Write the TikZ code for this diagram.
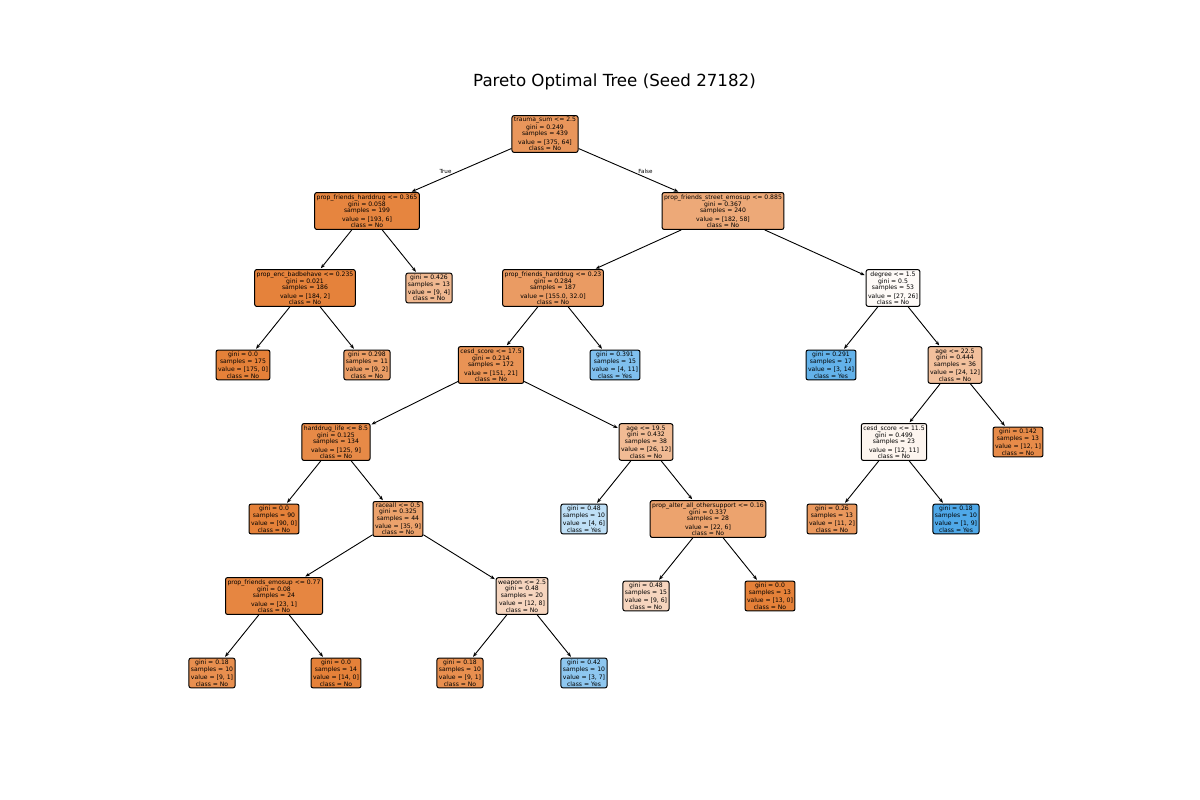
\documentclass[tikz,border=0pt]{standalone}
\usepackage{fontspec}
\setmainfont{DejaVu Sans}
\usetikzlibrary{arrows.meta}

\definecolor{clsno}{RGB}{229,129,57}
\definecolor{clsyes}{RGB}{57,157,229}

% impurity / sample statistics shown in every box
\newcommand{\tvals}[4]{gini = #1\\samples = #2\\[1.2pt]value = #3\\class = #4}

\tikzset{
  treebox/.style={draw=black, line width=1pt, rounded corners=2pt, inner xsep=2pt, inner ysep=1.8pt,
    align=center, font=\fontsize{6.1}{5.2}\selectfont},
  nobox/.style={treebox, fill=clsno!#1!white},
  yesbox/.style={treebox, fill=clsyes!#1!white},
  treeedge/.style={-{Stealth[length=4.5pt,width=3.5pt]}, line width=0.9pt, shorten >=1pt},
  edgelabel/.style={font=\fontsize{5.6}{6}\selectfont},
  titletext/.style={font=\fontsize{16.67}{20}\selectfont},
}

\begin{document}
\begin{tikzpicture}[x=1pt,y=-1pt]
\fill[white] (0,0) rectangle (1200,800);
\useasboundingbox (0,0) rectangle (1200,800);

\node[titletext] (title) at (614.5,82) {Pareto Optimal Tree (Seed 27182)};

% level 0
\node[nobox=83] (n0) at (545,134) {trauma\_sum <= 2.5\\\tvals{0.249}{439}{[375, 64]}{No}};
% level 1
\node[nobox=97] (n1) at (367,211) {prop\_friends\_harddrug <= 0.365\\\tvals{0.058}{199}{[193, 6]}{No}};
\node[nobox=68] (n2) at (723,211) {prop\_friends\_street\_emosup <= 0.885\\\tvals{0.367}{240}{[182, 58]}{No}};
% level 2
\node[nobox=99] (n3) at (305,288) {prop\_enc\_badbehave <= 0.235\\\tvals{0.021}{186}{[184, 2]}{No}};
\node[nobox=56] (n4) at (429,288) {\tvals{0.426}{13}{[9, 4]}{No}};
\node[nobox=79] (n5) at (553,288) {prop\_friends\_harddrug <= 0.23\\\tvals{0.284}{187}{[155.0, 32.0]}{No}};
\node[nobox=4] (n6) at (893,288) {degree <= 1.5\\\tvals{0.5}{53}{[27, 26]}{No}};
% level 3
\node[nobox=100] (n7) at (243,365) {\tvals{0.0}{175}{[175, 0]}{No}};
\node[nobox=78] (n8) at (367,365) {\tvals{0.298}{11}{[9, 2]}{No}};
\node[nobox=86] (n9) at (491,365) {cesd\_score <= 17.5\\\tvals{0.214}{172}{[151, 21]}{No}};
\node[yesbox=64] (n10) at (615,365) {\tvals{0.391}{15}{[4, 11]}{Yes}};
\node[yesbox=79] (n11) at (831,365) {\tvals{0.291}{17}{[3, 14]}{Yes}};
\node[nobox=50] (n12) at (955,365) {age <= 22.5\\\tvals{0.444}{36}{[24, 12]}{No}};
% level 4
\node[nobox=93] (n13) at (336,442) {harddrug\_life <= 8.5\\\tvals{0.125}{134}{[125, 9]}{No}};
\node[nobox=54] (n14) at (646,442) {age <= 19.5\\\tvals{0.432}{38}{[26, 12]}{No}};
\node[nobox=8] (n15) at (894,442) {cesd\_score <= 11.5\\\tvals{0.499}{23}{[12, 11]}{No}};
\node[nobox=92] (n16) at (1018,442) {\tvals{0.142}{13}{[12, 1]}{No}};
% level 5
\node[nobox=100] (n17) at (274,519) {\tvals{0.0}{90}{[90, 0]}{No}};
\node[nobox=74] (n18) at (398,519) {raceall <= 0.5\\\tvals{0.325}{44}{[35, 9]}{No}};
\node[yesbox=33] (n19) at (584,519) {\tvals{0.48}{10}{[4, 6]}{Yes}};
\node[nobox=73] (n20) at (708,519) {prop\_alter\_all\_othersupport <= 0.16\\\tvals{0.337}{28}{[22, 6]}{No}};
\node[nobox=82] (n21) at (832,519) {\tvals{0.26}{13}{[11, 2]}{No}};
\node[yesbox=89] (n22) at (956,519) {\tvals{0.18}{10}{[1, 9]}{Yes}};
% level 6
\node[nobox=96] (n23) at (274,596) {prop\_friends\_emosup <= 0.77\\\tvals{0.08}{24}{[23, 1]}{No}};
\node[nobox=33] (n24) at (522,596) {weapon <= 2.5\\\tvals{0.48}{20}{[12, 8]}{No}};
\node[nobox=33] (n25) at (646,596) {\tvals{0.48}{15}{[9, 6]}{No}};
\node[nobox=100] (n26) at (770,596) {\tvals{0.0}{13}{[13, 0]}{No}};
% level 7
\node[nobox=89] (n27) at (212,673) {\tvals{0.18}{10}{[9, 1]}{No}};
\node[nobox=100] (n28) at (336,673) {\tvals{0.0}{14}{[14, 0]}{No}};
\node[nobox=89] (n29) at (460,673) {\tvals{0.18}{10}{[9, 1]}{No}};
\node[yesbox=57] (n30) at (584,673) {\tvals{0.42}{10}{[3, 7]}{Yes}};

% branches
\foreach \p/\c in {n0/n1,n0/n2,n1/n3,n1/n4,n2/n5,n2/n6,n3/n7,n3/n8,n5/n9,n5/n10,
  n6/n11,n6/n12,n9/n13,n9/n14,n12/n15,n12/n16,n13/n17,n13/n18,n14/n19,n14/n20,
  n15/n21,n15/n22,n18/n23,n18/n24,n20/n25,n20/n26,n23/n27,n23/n28,n24/n29,n24/n30}
  \draw[treeedge] (\p) -- (\c);

\node[edgelabel] (lbltrue) at (445.5,171) {True};
\node[edgelabel] (lblfalse) at (645.5,171) {False};
\end{tikzpicture}
\end{document}
